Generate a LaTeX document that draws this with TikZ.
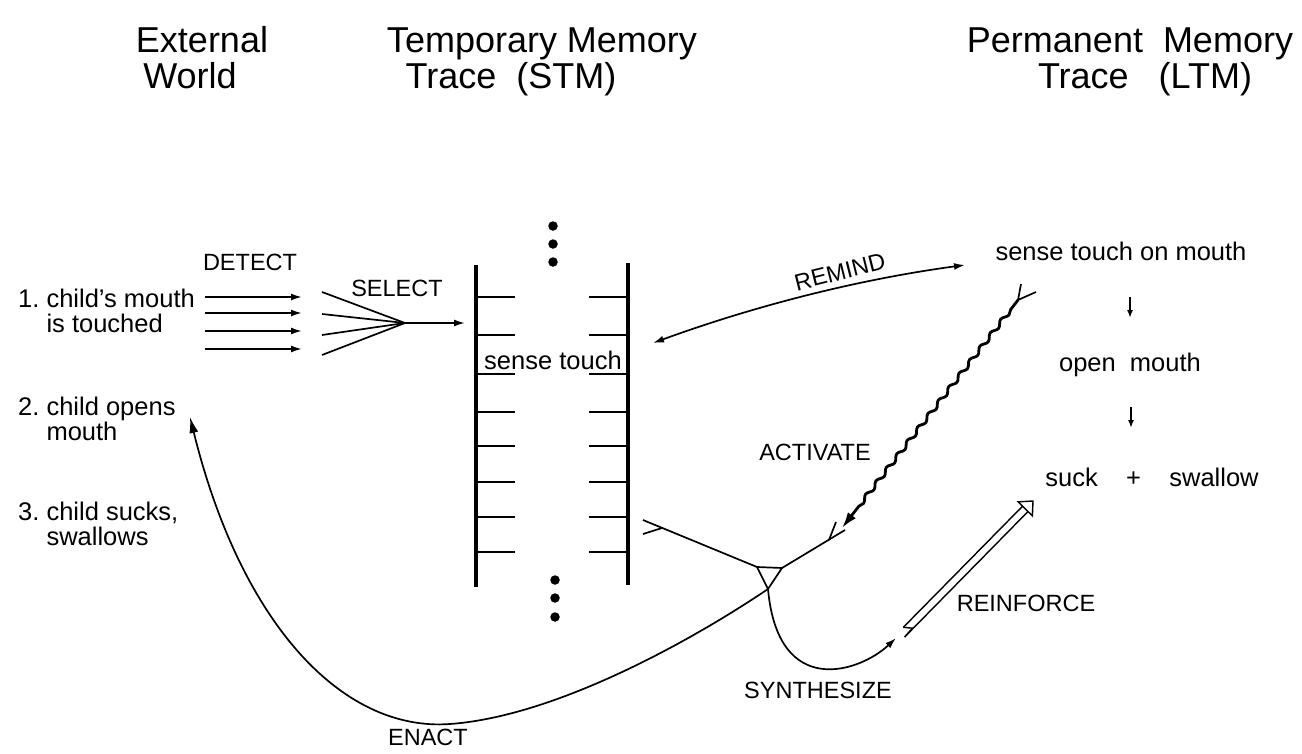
\documentclass[tikz,border=0pt]{standalone}
\usepackage{fontspec}
\setmainfont{Liberation Sans}
\usetikzlibrary{calc,arrows.meta,decorations.pathmorphing}

\begin{document}
\begin{tikzpicture}[x=1pt,y=-1pt,
  hdr/.style={font=\fontsize{36}{40}\selectfont, inner sep=0pt, anchor=base},
  txt/.style={font=\fontsize{25.5}{25}\selectfont, inner sep=0pt, align=left, anchor=west},
  ltm/.style={font=\fontsize{25.5}{28}\selectfont, inner sep=0pt},
  lbl/.style={font=\fontsize{23.5}{26}\selectfont, inner sep=0pt},
  ln/.style={line width=1.7pt},
  rail/.style={line width=3.6pt},
  rung/.style={line width=2.4pt},
  dot/.style={circle, fill, inner sep=0pt, minimum size=9.5pt},
  tip/.style={-{Latex[length=11pt,width=7pt]}},
  tips/.style={{Latex[length=11pt,width=7pt]}-{Latex[length=11pt,width=7pt]}},
  bigtip/.style={-{Latex[length=16pt,width=9pt]}},
]
\useasboundingbox (0,0) rectangle (1302,753);

% column headings
\node[hdr] (ext)  at (202,52)  {External};
\node[hdr] (wld)  at (190,88)  {World};
\node[hdr] (tmp)  at (542,52)  {Temporary Memory};
\node[hdr] (tstm) at (511,88)  {Trace\ \ (STM)};
\node[hdr] (perm) at (1130,52) {Permanent\ \ Memory};
\node[hdr] (tltm) at (1145,88) {Trace\ \ \ (LTM)};

% events in the external world
\node[txt] (w1) at (18,311) {1.\ child's mouth\\\hphantom{1.\ }is touched};
\node[txt] (w2) at (18,419) {2.\ child opens\\\hphantom{2.\ }mouth};
\node[txt] (w3) at (18,524) {3.\ child sucks,\\\hphantom{3.\ }swallows};

% process labels
\node[lbl] (detect)    at (250,262) {DETECT};
\node[lbl] (select)    at (397,288) {SELECT};
\node[lbl, rotate=14] (remind) at (840,272) {REMIND};
\node[lbl] (activate)  at (815,452) {ACTIVATE};
\node[lbl] (reinforce) at (1026,603) {REINFORCE};
\node[lbl] (synth)     at (818,690) {SYNTHESIZE};
\node[lbl] (enact)     at (428,737) {ENACT};

% permanent memory contents
\node[ltm] (ltma) at (1121,251) {sense touch on mouth};
\node[ltm] (ltmb) at (1130,365) {open\ \ mouth};
\node[ltm] (ltmc) at (1152,477) {suck\ \ \ \ +\ \ \ \ swallow};
\coordinate (da1) at (1130,297); \coordinate (da2) at (1130,318);
\coordinate (db1) at (1131,407); \coordinate (db2) at (1131,428);
\draw[line width=1.6pt, -{Latex[length=8pt,width=6pt]}] (da1) -- (da2);
\draw[line width=1.6pt, -{Latex[length=8pt,width=6pt]}] (db1) -- (db2);

% short-term memory ladder
\coordinate (lt) at (476,265); \coordinate (lb) at (476,587);
\coordinate (rt) at (628,263); \coordinate (rb) at (628,585);
\draw[rail] (lt) -- (lb);
\draw[rail] (rt) -- (rb);
\foreach \y in {297,335,374,412,446,482,517,552}{
  \draw[rung] (476,\y) -- (515,\y);
  \draw[rung] (589,\y) -- (628,\y);
}
\node[txt, anchor=center] (stm) at (553,360) {sense touch};
\foreach \y [count=\i] in {226,244,262}{ \node[dot] (dt\i) at (553,\y) {}; }
\foreach \y [count=\i] in {580,598,617}{ \node[dot] (db\i) at (555,\y) {}; }

% detection arrows
\foreach \y [count=\i] in {297,313,331,349}{
  \coordinate (ds\i) at (205,\y);
  \coordinate (de\i) at (302,\y);
  \draw[ln, tip] (ds\i) -- (de\i);
}

% selection fan
\coordinate (sel) at (405,323);
\coordinate (selin) at (465,323);
\foreach \y [count=\i] in {292,314,335,355}{
  \coordinate (fs\i) at (322,\y);
  \draw[ln] (fs\i) -- (sel);
}
\draw[ln, tip] (sel) -- (selin);

% remind
\coordinate (rmA) at (653,343);
\coordinate (rmB) at (965,265);
\draw[ln, tips] (rmA) .. controls (757,305) and (861,279) .. (rmB);

% activation (wavy) with forked origin
\coordinate (acf) at (1018,300);
\coordinate (acf1) at (1021,284);
\coordinate (acf2) at (1036,292);
\coordinate (actip) at (842,528);
\draw[ln] (acf1) -- (acf) -- (acf2);
\draw[line width=2.8pt, -{Latex[length=16pt,width=10pt]}, decorate,
  decoration={snake, segment length=17pt, amplitude=2pt, pre length=12pt, post length=24pt}]
  (acf) -- (actip);

% synthesis junction
\coordinate (tL) at (757,567);
\coordinate (tR) at (782,568);
\coordinate (tB) at (768,589);
\draw[ln] (tL) -- (tR) -- (tB) -- cycle;
\coordinate (stmout) at (643,520);
\coordinate (stmfk) at (662,528);
\coordinate (stmfk2) at (643,534);
\draw[ln] (stmout) -- (tL);
\draw[ln] (stmfk) -- (stmfk2);
\coordinate (acin) at (845,530);
\coordinate (acfk) at (829,540);
\coordinate (acfk2) at (836,522);
\draw[ln] (tR) -- (acin);
\draw[ln] (acfk) -- (acfk2);

% enact
\coordinate (enb) at (450,724);
\coordinate (entip) at (190,417);
\draw[ln, bigtip] (tB) .. controls (700,635) and (560,716) .. (enb)
  .. controls (340,732) and (240,620) .. (entip);

% synthesize
\coordinate (syntip) at (896,638);
\draw[ln, tip] (tB) .. controls (778,700) and (860,672) .. (syntip);

% reinforce (hollow double arrow)
\coordinate (rfA) at (906,630);
\coordinate (rfB) at (1033,501);
\coordinate (rfH) at ($(rfB)!11pt!(rfA)$);
\coordinate (rfL) at ($(rfA)!3.8pt!90:(rfB)$);
\coordinate (rfR0) at ($(rfA)!3.8pt!-90:(rfB)$);
\coordinate (rfR) at ($(rfR0)!6pt!180:(rfB)$);
\draw[line width=1.4pt] (rfL) -- ($(rfH)!3.8pt!90:(rfB)$);
\draw[line width=1.4pt] (rfR) -- ($(rfH)!3.8pt!-90:(rfB)$);
\draw[line width=1.4pt, line join=miter]
  ($(rfH)!10pt!90:(rfB)$) -- (rfB) -- ($(rfH)!10pt!-90:(rfB)$) -- cycle;
\coordinate (rfZ) at ($(rfL)!6pt!(rfB)$);
\draw[line width=1.4pt] (rfL) -- ($(rfZ)!7pt!-90:(rfB)$) -- (rfR);
\end{tikzpicture}
\end{document}
